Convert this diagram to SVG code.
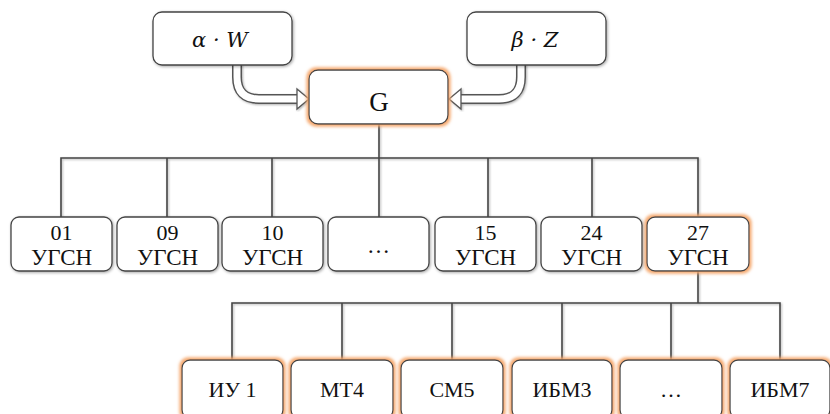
<svg xmlns="http://www.w3.org/2000/svg" width="830" height="414" viewBox="0 0 830 414">
<defs>
<filter id="sh" x="-20%" y="-20%" width="140%" height="140%">
<feDropShadow dx="1" dy="1" stdDeviation="1.5" flood-color="#000" flood-opacity="0.35"/>
</filter>
<filter id="og" x="-20%" y="-30%" width="140%" height="160%">
<feMorphology in="SourceAlpha" operator="dilate" radius="1.5" result="d"/>
<feGaussianBlur in="d" stdDeviation="1.8" result="b"/>
<feFlood flood-color="#f5a66a" flood-opacity="0.95"/>
<feComposite in2="b" operator="in" result="g"/>
<feMerge><feMergeNode in="g"/><feMergeNode in="SourceGraphic"/></feMerge>
</filter>
<filter id="lsh" x="-5%" y="-5%" width="110%" height="110%">
<feDropShadow dx="1" dy="1" stdDeviation="1" flood-color="#000" flood-opacity="0.3"/>
</filter>
</defs>
<style>
.box{fill:#fff;stroke:#444;stroke-width:1.3}
.t{font-family:"Liberation Serif","Times New Roman",serif;font-size:23px;fill:#111;text-anchor:middle}
.s{font-size:22px}
.m{font-family:"DejaVu Serif","Liberation Serif",serif;font-style:italic;font-size:21px;fill:#111;text-anchor:middle}
.ln{fill:none;stroke:#444;stroke-width:1.6}
.ao{fill:none;stroke:#555;stroke-width:10}
.ai{fill:none;stroke:#fff;stroke-width:7}
.ah{fill:#fff;stroke:#555;stroke-width:1.3;stroke-linejoin:miter}
</style>
<rect width="830" height="414" fill="#fff"/>

<g id="connectors">
<g filter="url(#lsh)">
<path class="ln" d="M379,124 V217"/>
<path class="ln" d="M61,217 V158 H698 V217"/>
<path class="ln" d="M167,158 V217 M272,158 V217 M488,158 V217 M592,158 V217"/>
<path class="ln" d="M698,271 V303"/>
<path class="ln" d="M232,360 V303 H780 V360"/>
<path class="ln" d="M342,303 V360 M452,303 V360 M562,303 V360 M671,303 V360"/>
</g>
<g filter="url(#lsh)">
<path class="ao" d="M237,64 V77 Q237,99 259,99 H299"/>
<path class="ai" d="M237,63 V77 Q237,99 259,99 H300"/>
<polygon class="ah" points="297,89 309,99 297,109"/>
<path class="ao" d="M521,64 V77 Q521,99 499,99 H460"/>
<path class="ai" d="M521,63 V77 Q521,99 499,99 H459"/>
<polygon class="ah" points="461,89 449,99 461,109"/>
</g>
</g>

<g id="aw"><rect class="box" filter="url(#sh)" x="153" y="12" width="139" height="53" rx="9"/><text class="m" x="220" y="47">α  · W</text></g>
<g id="bz"><rect class="box" filter="url(#sh)" x="467" y="12" width="139" height="53" rx="9"/><text class="m" x="535" y="47">β · Z</text></g>
<g id="g"><rect class="box" filter="url(#og)" x="309" y="70" width="139" height="54" rx="9"/><text class="t" x="379" y="111" style="font-size:27px">G</text></g>

<g id="u01"><rect class="box" filter="url(#sh)" x="11" y="217" width="101" height="54" rx="8"/><text class="t s" x="61.5" y="240">01</text><text class="t" x="61.5" y="265">УГСН</text></g>
<g id="u09"><rect class="box" filter="url(#sh)" x="117" y="217" width="101" height="54" rx="8"/><text class="t s" x="167.5" y="240">09</text><text class="t" x="167.5" y="265">УГСН</text></g>
<g id="u10"><rect class="box" filter="url(#sh)" x="222" y="217" width="101" height="54" rx="8"/><text class="t s" x="272.5" y="240">10</text><text class="t" x="272.5" y="265">УГСН</text></g>
<g id="udots"><rect class="box" filter="url(#sh)" x="328" y="217" width="101" height="54" rx="8"/><text class="t" x="378.5" y="253">…</text></g>
<g id="u15"><rect class="box" filter="url(#sh)" x="435" y="217" width="101" height="54" rx="8"/><text class="t s" x="485.5" y="240">15</text><text class="t" x="485.5" y="265">УГСН</text></g>
<g id="u24"><rect class="box" filter="url(#sh)" x="541" y="217" width="101" height="54" rx="8"/><text class="t s" x="591.5" y="240">24</text><text class="t" x="591.5" y="265">УГСН</text></g>
<g id="u27"><rect class="box" filter="url(#og)" x="647" y="217" width="102" height="54" rx="8"/><text class="t s" x="698" y="240">27</text><text class="t" x="698" y="265">УГСН</text></g>

<g id="iu1"><rect class="box" filter="url(#og)" x="182" y="360" width="101" height="58" rx="8"/><text class="t s" x="232.5" y="397">ИУ 1</text></g>
<g id="mt4"><rect class="box" filter="url(#og)" x="291" y="360" width="102" height="58" rx="8"/><text class="t s" x="342" y="397">МТ4</text></g>
<g id="sm5"><rect class="box" filter="url(#og)" x="401" y="360" width="102" height="58" rx="8"/><text class="t s" x="452" y="397">СМ5</text></g>
<g id="ibm3"><rect class="box" filter="url(#og)" x="512" y="360" width="100" height="58" rx="8"/><text class="t s" x="562" y="397">ИБМ3</text></g>
<g id="dots3"><rect class="box" filter="url(#og)" x="620" y="360" width="102" height="58" rx="8"/><text class="t s" x="671" y="397">…</text></g>
<g id="ibm7"><rect class="box" filter="url(#og)" x="730" y="360" width="100" height="58" rx="8"/><text class="t s" x="780" y="397">ИБМ7</text></g>
</svg>
